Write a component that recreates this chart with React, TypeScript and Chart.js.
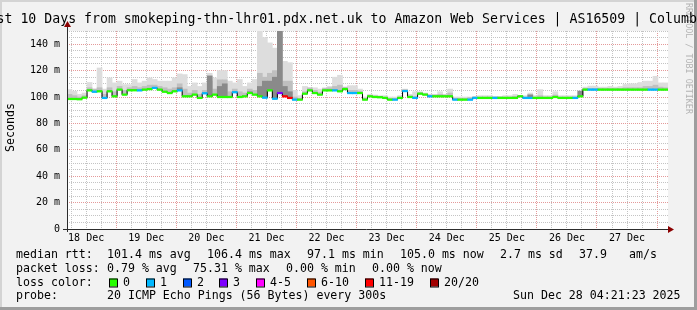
import { useEffect, useRef } from 'react';
import { Chart, registerables } from 'chart.js';

Chart.register(...registerables);

const W = 697;
const H = 310;

const titleText = 'Last 10 Days from smokeping-thn-lhr01.pdx.net.uk to Amazon Web Services | AS16509 | Columbus';
const yAxisTitle = 'Seconds';
const watermark = 'RRDTOOL / TOBI OETIKER';

// time axis: hours since graph start (Thu Dec 18 04:21:23 2025), 2-hour samples
const SPAN_HOURS = 240;
const STEP_HOURS = 2;
const FIRST_MIDNIGHT_H = 19.6436; // Dec 19 00:00
const dayLabels = ['18 Dec', '19 Dec', '20 Dec', '21 Dec', '22 Dec', '23 Dec', '24 Dec', '25 Dec', '26 Dec', '27 Dec'];

// median RTT (ms)
const medianRtt = [
  98.5, 98.5, 98.3, 99.5, 105, 104, 104.3, 99.3, 104.3, 100.5,
  105.6, 101.8, 105.1, 105.1, 105, 105.6, 106, 106.9, 105.6, 104,
  103, 104.3, 105, 100.5, 100.5, 101.8, 99.3, 102.8, 100.5, 101.8,
  100, 100, 100, 103.6, 100, 100.5, 103, 101.8, 100.5, 99.5,
  105, 98.7, 103, 100.5, 99.3, 98, 98, 102.5, 105, 103,
  101.8, 105, 105, 105, 104.3, 106, 103, 103, 103, 98,
  100.5, 100, 99.8, 99.3, 98, 98, 99.3, 104.5, 100, 99.3,
  102.5, 101.8, 100.5, 100.5, 100.5, 100.5, 100.5, 98, 98, 98,
  98, 99.3, 99.3, 99.3, 99.3, 99.3, 99.3, 99.3, 99.3, 99.3,
  100.5, 99.3, 99.3, 99.3, 99.3, 99.3, 99.3, 100, 99.3, 99.3,
  99.3, 99.3, 100.5, 105.6, 105.6, 105.6, 105.6, 105.6, 105.6, 105.6,
  105.6, 105.6, 105.6, 105.6, 105.6, 105.6, 105.6, 105.6, 105.6, 105.6,
];

// loss class per sample (index into lossColors)
const lossIndex = [
  0, 0, 0, 0, 0, 1, 0, 1, 0, 0,
  0, 0, 0, 0, 1, 0, 0, 1, 0, 0,
  0, 0, 1, 0, 0, 0, 0, 1, 0, 0,
  0, 0, 0, 1, 0, 0, 0, 0, 0, 1,
  0, 1, 3, 6, 6, 1, 0, 0, 0, 0,
  0, 0, 0, 1, 0, 0, 1, 1, 0, 0,
  0, 0, 0, 0, 0, 1, 0, 1, 0, 1,
  0, 0, 1, 0, 0, 0, 0, 1, 0, 0,
  1, 1, 0, 0, 0, 1, 0, 0, 0, 0,
  0, 1, 1, 0, 0, 0, 0, 0, 0, 0,
  0, 1, 0, 0, 1, 1, 0, 0, 0, 0,
  0, 0, 0, 0, 0, 0, 1, 1, 0, 0,
];

// smoke: top of the light band (ms)
const smokeLight = [
  105.6, 104.3, 102, 103, 111, 106, 122, 106, 114.5, 110.7,
  112, 109.4, 109.4, 113.3, 110.7, 112, 114.5, 113.3, 112, 112,
  112, 114.5, 117.5, 117, 108, 110.7, 108, 110.7, 118, 114.5,
  120, 120, 112, 110.7, 113.3, 108, 110.7, 113.3, 150, 145,
  141, 137, 155, 127, 126, 105, 101, 108, 106, 107,
  106, 107, 108, 115, 116.5, 107, 108.6, 108.6, 106, 100,
  102, 101.5, 101, 101, 100, 100, 101, 106, 102, 104,
  104, 103, 102, 102, 104, 102, 106, 100, 100, 100,
  100, 100.5, 101, 101, 101, 100.5, 100.5, 101, 101, 102,
  101, 101, 103, 101, 105.6, 101, 101, 104, 101, 101,
  101, 101, 104, 107.5, 108.3, 108.3, 107.5, 107.5, 108, 107.5,
  108, 109.5, 110, 110, 111, 112, 112, 115.7, 110.7, 110.7,
];

// smoke: top of the medium band (ms)
const smokeMid = [
  102, 101, 100, 101, 107, 106, 107, 102, 107, 104,
  108, 105, 107, 108, 107, 108, 109, 109, 108, 107,
  106, 107, 110, 106, 103, 105, 102, 105, 112, 106,
  113, 113, 104, 106, 104, 103, 106, 105, 118, 115,
  118, 120, 152, 112, 112, 100, 99, 104, 107, 105,
  103.5, 106.5, 107, 108, 109, 107.5, 105, 105, 104.5, 99,
  101, 100.8, 100.5, 100, 99, 99, 100, 105.5, 101, 100.5,
  103.5, 102.5, 101.5, 101.5, 102, 101.5, 103, 99, 99, 99,
  99.5, 100, 100, 100, 100, 100, 100, 100, 100, 100.5,
  101, 100, 102, 100, 101, 100, 100, 101.5, 100, 100,
  100, 100, 104, 106.5, 106.5, 106.5, 106.5, 106.5, 106.5, 106.5,
  106.5, 107, 107, 107, 107, 108, 108, 109, 107.5, 107,
];

// smoke: darkest band, only where visible
const darkSmokeAt = [22, 28, 30, 31, 36, 38, 39, 40, 41, 42, 43, 44, 92, 102];
const darkSmokeTop = [107, 116, 108, 110, 104, 108, 112, 112, 115, 155, 108, 104, 101.5, 104.5];

const lossLabels = ['0', '1', '2', '3', '4-5', '6-10', '11-19', '20/20'];
const lossColors = ['#26ff00', '#00b8ff', '#0059ff', '#7e00ff', '#ff00ff', '#ff5500', '#ff0000', '#a10000'];

const rttRowTexts = ['median rtt:', '101.4 ms avg', '106.4 ms max', '97.1 ms min', '105.0 ms now', '2.7 ms sd', '37.9', 'am/s'];
const lossRowTexts = ['packet loss:', '0.79 % avg', '75.31 % max', '0.00 % min', '0.00 % now'];
const lossColorHead = 'loss color:';
const probeRowTexts = ['probe:', '20 ICMP Echo Pings (56 Bytes) every 300s', 'Sun Dec 28 04:21:23 2025'];

// layout (pixels)
const rttRowX = [16, 107, 207, 307, 400, 500, 579, 629];
const lossRowX = [16, 107, 193, 286, 372];
const boxX = [109, 146, 183, 219, 256, 307, 365, 430];
const probeRowX = [16, 107, 513];
const rowY = [254.5, 268.5, 282.5, 296];

const MONO = '"DejaVu Sans Mono", monospace';
const GRID_GRAY = '#c4c4c4';
const GRID_RED = '#e49a9a';
const AXIS = '#2c2c2c';
const ARROW = '#8b0000';

const near = (a: number, b: number) => Math.abs(a - b) < 0.01;

const rrdPlugin = {
  id: 'rrdLook',
  beforeDraw(chart: any) {
    const { ctx, chartArea: a } = chart;
    ctx.save();
    ctx.fillStyle = '#f2f2f2';
    ctx.fillRect(0, 0, W, H);
    ctx.fillStyle = '#d4d4d4';
    ctx.fillRect(0, 0, W, 2);
    ctx.fillRect(0, 0, 2, H);
    ctx.fillStyle = '#9e9e9e';
    ctx.fillRect(0, H - 3, W, 3);
    ctx.fillRect(W - 3, 0, 3, H);
    ctx.fillStyle = '#ffffff';
    ctx.fillRect(a.left, a.top, a.right - a.left, a.bottom - a.top);
    ctx.restore();
  },
  afterDatasetsDraw(chart: any) {
    const { ctx, chartArea: a } = chart;
    const yb = Math.round(a.bottom) + 0.5;
    const xl = Math.round(a.left) + 0.5;
    ctx.save();
    ctx.strokeStyle = AXIS;
    ctx.lineWidth = 1;
    ctx.beginPath();
    ctx.moveTo(a.left - 4, yb);
    ctx.lineTo(a.right + 2, yb);
    ctx.moveTo(xl, a.bottom + 3);
    ctx.lineTo(xl, a.top - 5);
    ctx.stroke();
    ctx.fillStyle = ARROW;
    ctx.beginPath();
    ctx.moveTo(a.right + 6, yb);
    ctx.lineTo(a.right, yb - 3.5);
    ctx.lineTo(a.right, yb + 3.5);
    ctx.closePath();
    ctx.fill();
    ctx.beginPath();
    ctx.moveTo(xl, a.top - 10);
    ctx.lineTo(xl - 3.5, a.top - 4);
    ctx.lineTo(xl + 3.5, a.top - 4);
    ctx.closePath();
    ctx.fill();
    ctx.restore();
  },
  afterDraw(chart: any) {
    const { ctx } = chart;
    ctx.save();
    // watermark
    ctx.save();
    ctx.translate(688, 3);
    ctx.rotate(Math.PI / 2);
    ctx.font = `8.4px ${MONO}`;
    ctx.fillStyle = '#b4b4b4';
    ctx.textBaseline = 'middle';
    ctx.textAlign = 'left';
    ctx.fillText(watermark, 0, 0);
    ctx.restore();
    // title
    ctx.font = `13.22px ${MONO}`;
    ctx.fillStyle = '#000';
    ctx.textBaseline = 'middle';
    ctx.textAlign = 'left';
    ctx.fillText(titleText, -19.4, 19.5);
    // y title
    ctx.save();
    ctx.translate(10.5, 127.5);
    ctx.rotate(-Math.PI / 2);
    ctx.font = `11.6px ${MONO}`;
    ctx.textAlign = 'center';
    ctx.fillText(yAxisTitle, 0, 0);
    ctx.restore();
    // legend
    ctx.font = `11.6px ${MONO}`;
    ctx.textAlign = 'left';
    ctx.textBaseline = 'middle';
    rttRowTexts.forEach((t, i) => ctx.fillText(t, rttRowX[i], rowY[0]));
    lossRowTexts.forEach((t, i) => ctx.fillText(t, lossRowX[i], rowY[1]));
    ctx.fillText(lossColorHead, 16, rowY[2]);
    lossLabels.forEach((t, i) => {
      ctx.fillStyle = lossColors[i];
      ctx.fillRect(boxX[i], rowY[2] - 4, 8, 8);
      ctx.strokeStyle = '#000';
      ctx.lineWidth = 1;
      ctx.strokeRect(boxX[i] + 0.5, rowY[2] - 4 + 0.5, 8, 8);
      ctx.fillStyle = '#000';
      ctx.fillText(t, boxX[i] + 14, rowY[2]);
    });
    probeRowTexts.forEach((t, i) => ctx.fillText(t, probeRowX[i], rowY[3]));
    ctx.restore();
  },
};

export default function App() {
  const ref = useRef<HTMLCanvasElement>(null);

  useEffect(() => {
    document.body.style.margin = '0';
    const canvas = ref.current;
    if (!canvas) return;
    const n = medianRtt.length;
    const center = (i: number) => i * STEP_HOURS + STEP_HOURS / 2;
    const LINE_HALF = 0.6;

    const lightData = medianRtt.map((m, i) => ({ x: center(i), y: [m, smokeLight[i]] }));
    const midData = medianRtt.map((m, i) => ({ x: center(i), y: [m, smokeMid[i]] }));
    const darkData = darkSmokeAt.map((idx, k) => ({ x: center(idx), y: [medianRtt[idx], darkSmokeTop[k]] }));
    const medBars = medianRtt.map((m, i) => ({ x: center(i), y: [m - LINE_HALF, m + LINE_HALF] }));
    const stepLine = medianRtt.map((m, i) => ({ x: i * STEP_HOURS, y: m }));
    stepLine.push({ x: n * STEP_HOURS, y: medianRtt[n - 1] });

    const xTicks: number[] = [];
    for (let t = FIRST_MIDNIGHT_H - 18; t < SPAN_HOURS; t += 6) xTicks.push(t);
    const noonFirst = FIRST_MIDNIGHT_H - 12;

    const barCommon = {
      type: 'bar' as const,
      grouped: false,
      barPercentage: 1,
      categoryPercentage: 1,
      borderWidth: 0,
    };

    const chart = new Chart(canvas, {
      type: 'bar',
      data: {
        datasets: [
          { ...barCommon, data: medBars as any, backgroundColor: lossIndex.map((k) => lossColors[k]), order: 0 },
          {
            type: 'line',
            data: stepLine as any,
            stepped: true,
            borderColor: '#000',
            borderWidth: 1,
            pointRadius: 0,
            fill: false,
            order: 1,
          } as any,
          { ...barCommon, data: darkData as any, backgroundColor: '#8a8a8a', order: 2 },
          { ...barCommon, data: midData as any, backgroundColor: '#bfbfbf', order: 3 },
          { ...barCommon, data: lightData as any, backgroundColor: '#dddddd', order: 4 },
        ],
      },
      plugins: [rrdPlugin],
      options: {
        responsive: false,
        animation: false,
        events: [],
        layout: { padding: { left: 0, right: 29, top: 31, bottom: 0 } },
        plugins: {
          legend: { display: false },
          tooltip: { enabled: false },
          title: { display: false },
        },
        scales: {
          x: {
            type: 'linear',
            min: 0,
            max: SPAN_HOURS,
            offset: false,
            afterBuildTicks: (s: any) => {
              s.ticks = xTicks.map((v) => ({ value: v }));
            },
            afterFit: (s: any) => {
              s.height = 81;
            },
            grid: {
              color: (c: any) => {
                const v = c.tick ? c.tick.value : 0;
                const d = (v - FIRST_MIDNIGHT_H) / 24;
                return near(d, Math.round(d)) ? GRID_RED : GRID_GRAY;
              },
              drawTicks: false,
              lineWidth: 1,
              offset: false,
            },
            border: { display: false, dash: [1, 1] },
            ticks: {
              autoSkip: false,
              maxRotation: 0,
              padding: 3,
              color: '#000',
              font: { family: MONO, size: 10 },
              callback: (v: any) => {
                const d = (Number(v) - noonFirst) / 24;
                const r = Math.round(d);
                return near(d, r) && dayLabels[r] ? dayLabels[r] : '';
              },
            },
          },
          y: {
            type: 'linear',
            min: 0,
            max: 150,
            afterFit: (s: any) => {
              s.width = 67;
            },
            grid: {
              color: (c: any) => {
                const v = c.tick ? c.tick.value : 0;
                return v % 20 === 0 ? GRID_RED : GRID_GRAY;
              },
              drawTicks: false,
              lineWidth: 1,
            },
            border: { display: false, dash: [1, 1] },
            ticks: {
              stepSize: 5,
              autoSkip: false,
              padding: 7,
              color: '#000',
              font: { family: MONO, size: 10 },
              callback: (v: any) => {
                const n2 = Number(v);
                if (n2 % 20 !== 0) return '';
                return n2 === 0 ? '0' : `${n2} m`;
              },
            },
          },
        },
      } as any,
    });

    return () => chart.destroy();
  }, []);

  return <canvas ref={ref} width={W} height={H} style={{ display: 'block' }} />;
}
